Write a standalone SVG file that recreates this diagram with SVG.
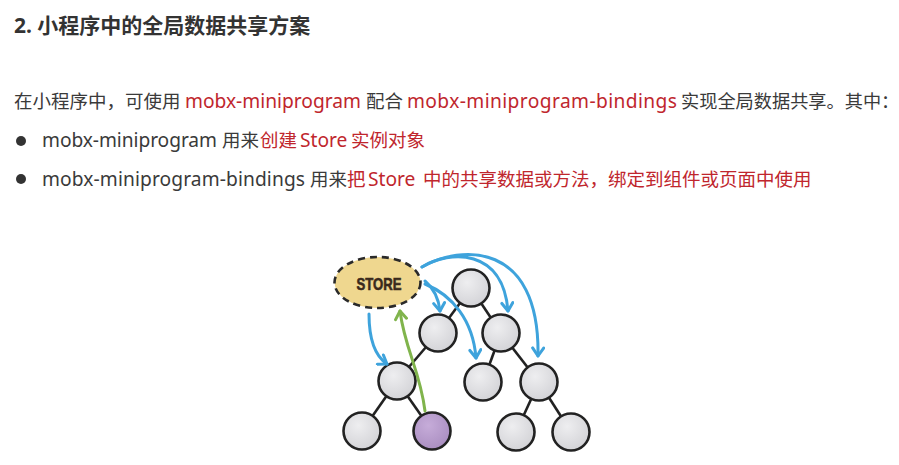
<svg xmlns="http://www.w3.org/2000/svg" width="899" height="465" viewBox="0 0 899 465">
<defs>
<style>
.t{font-family:"Noto Sans","Noto Sans CJK SC",sans-serif;font-size:18.5px;fill:#3a3a3a}
.l{font-size:19.2px}
.r{fill:#c0262d}
.ttl{font-family:"Noto Sans","Noto Sans CJK SC",sans-serif;font-size:21px;font-weight:bold;fill:#333}
.node{stroke:#222;stroke-width:2.6;fill:url(#g)}
.edge{stroke:#222;stroke-width:2.6;fill:none}
.blue{stroke:#3ea3dc;stroke-width:3;fill:none;stroke-linecap:round;marker-end:url(#ab)}
.green{stroke:#80b44c;stroke-width:3;fill:none;stroke-linecap:round;marker-end:url(#ag)}
</style>
<radialGradient id="g" cx="0.4" cy="0.35" r="0.7">
<stop offset="0" stop-color="#eeeef0"/><stop offset="1" stop-color="#d2d2d6"/>
</radialGradient>
<radialGradient id="gp" cx="0.4" cy="0.35" r="0.7">
<stop offset="0" stop-color="#c6acd9"/><stop offset="1" stop-color="#a98dc0"/>
</radialGradient>
<marker id="ab" viewBox="-10 -7 12 14" refX="0" refY="0" markerWidth="12" markerHeight="14" markerUnits="userSpaceOnUse" orient="auto">
<path d="M-8,-5.5 L0,0 L-8,5.5" fill="none" stroke="#3ea3dc" stroke-width="3" stroke-linecap="round" stroke-linejoin="round"/>
</marker>
<marker id="ag" viewBox="-10 -7 12 14" refX="0" refY="0" markerWidth="12" markerHeight="14" markerUnits="userSpaceOnUse" orient="auto">
<path d="M-8,-5.5 L0,0 L-8,5.5" fill="none" stroke="#80b44c" stroke-width="3" stroke-linecap="round" stroke-linejoin="round"/>
</marker>
</defs>
<rect width="899" height="465" fill="#ffffff"/>

<text class="ttl" x="14" y="33">2. 小程序中的全局数据共享方案</text>

<text class="t" y="108"><tspan x="14">在小程序中，可使用</tspan><tspan x="185" class="r l" textLength="176">mobx-miniprogram</tspan><tspan x="366">配合</tspan><tspan x="407" class="r l" textLength="270">mobx-miniprogram-bindings</tspan><tspan x="681" style="font-size:18.2px">实现全局数据共享。其中：</tspan></text>

<circle cx="21" cy="141" r="5" fill="#333"/>
<text class="t" y="147"><tspan x="42" class="l" textLength="175">mobx-miniprogram</tspan><tspan x="222">用来</tspan><tspan x="260" class="r">创建</tspan><tspan x="300" class="r l">Store</tspan><tspan x="351" class="r">实例对象</tspan></text>

<circle cx="21" cy="179" r="5" fill="#333"/>
<text class="t" y="186"><tspan x="42" class="l" textLength="263">mobx-miniprogram-bindings</tspan><tspan x="310">用来</tspan><tspan class="r" x="347">把</tspan><tspan class="r l" x="368">Store</tspan><tspan class="r" x="423">中的共享数据或方法，绑定到组件或页面中使用</tspan></text>

<g id="edges">
<line class="edge" x1="471" y1="288" x2="438" y2="333"/>
<line class="edge" x1="471" y1="288" x2="501" y2="333"/>
<line class="edge" x1="438" y1="333" x2="397" y2="381"/>
<line class="edge" x1="501" y1="333" x2="483" y2="382"/>
<line class="edge" x1="501" y1="333" x2="539" y2="382"/>
<line class="edge" x1="397" y1="381" x2="362" y2="431"/>
<line class="edge" x1="397" y1="381" x2="432" y2="431"/>
<line class="edge" x1="539" y1="382" x2="516" y2="432"/>
<line class="edge" x1="539" y1="382" x2="571" y2="432"/>
</g>

<g id="n-root"><circle class="node" cx="471" cy="288" r="18.5"/></g>
<g id="n-l2a"><circle class="node" cx="438" cy="333" r="18.5"/></g>
<g id="n-l2b"><circle class="node" cx="501" cy="333" r="18.5"/></g>
<g id="n-l3a"><circle class="node" cx="397" cy="381" r="18.5"/></g>
<g id="n-l3b"><circle class="node" cx="483" cy="382" r="18.5"/></g>
<g id="n-l3c"><circle class="node" cx="539" cy="382" r="18.5"/></g>
<g id="n-l4a"><circle class="node" cx="362" cy="431" r="18.5"/></g>
<g id="n-l4b"><circle class="node" cx="432" cy="431" r="18.5" style="fill:url(#gp)"/></g>
<g id="n-l4c"><circle class="node" cx="516" cy="432" r="18.5"/></g>
<g id="n-l4d"><circle class="node" cx="571" cy="432" r="18.5"/></g>

<g id="store">
<ellipse cx="377.5" cy="282.5" rx="43" ry="25.5" fill="#efd78f" stroke="#2a2a2a" stroke-width="2.6" stroke-dasharray="7 5"/>
<text x="379" y="290" text-anchor="middle" font-family="'Liberation Sans',sans-serif" font-weight="bold" font-size="17" fill="#3a2a1c" stroke="#3a2a1c" stroke-width="0.6" textLength="45" lengthAdjust="spacingAndGlyphs">STORE</text>
</g>

<g id="connectors">
<path class="blue" d="M369,314 Q369,352 387,364"/>
<path class="blue" d="M425,281 Q438,292 440,311"/>
<path class="blue" d="M425,284 C452,295 473,320 476,358"/>
<path class="blue" d="M422,267 C450,250 503,248 508,311"/>
<path class="blue" d="M422,267 C460,245 540,240 538,356"/>
<path class="green" d="M425,411 C420,370 405,350 400,311"/>
</g>
</svg>
